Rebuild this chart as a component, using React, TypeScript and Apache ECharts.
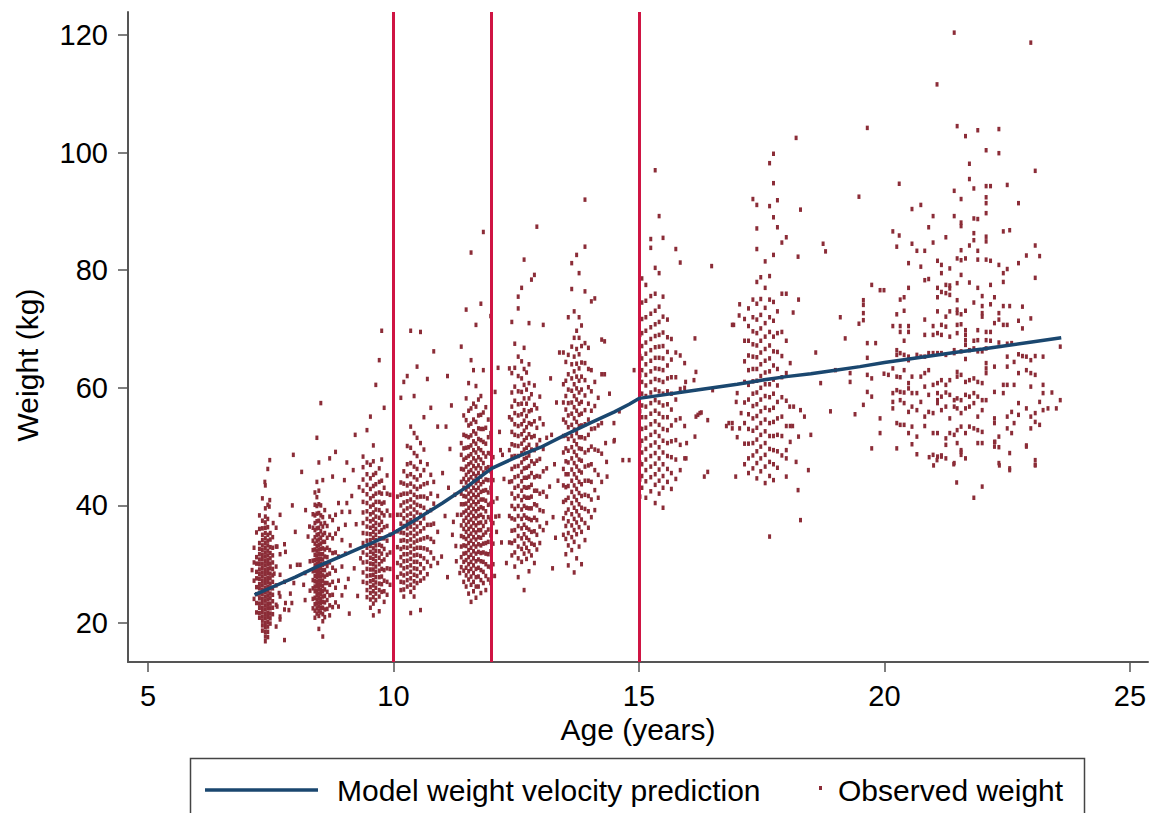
import React, { useEffect, useRef } from "react";
import * as echarts from "echarts";

type Col = [number, number[]];
type Pt = [number, number];

const xTicks = [5, 10, 15, 20, 25];
const yTicks = [20, 40, 60, 80, 100, 120];
const cutoffAges = [10, 12, 15];

const predAge = [7.17, 7.5, 8, 8.5, 9, 9.5, 10, 10.5, 11, 11.5, 12, 12.5, 13, 13.5, 14, 14.5, 14.8, 15, 15.5, 16, 16.5, 17, 17.5, 18, 18.5, 19, 19.5, 20, 20.5, 21, 21.5, 22, 22.5, 23, 23.6];
const predWeight = [24.8, 26.0, 27.8, 29.8, 31.6, 33.4, 35.3, 37.8, 40.4, 43.2, 46.3, 48.2, 49.9, 52.0, 54.0, 55.9, 57.2, 58.2, 58.8, 59.4, 60.0, 60.6, 61.3, 61.9, 62.4, 63.0, 63.6, 64.3, 64.9, 65.5, 66.1, 66.6, 67.2, 67.8, 68.5];

const wave7: Col[] = [
  [7.16, [24.1, 27.2, 30.3, 32.8]],
  [7.21, [21.8, 23.4, 24.9, 26.1, 27.6, 28.7, 30.1, 31.2, 35.4]],
  [7.27, [20.9, 21.7, 22.6, 23.3, 24.2, 25.0, 25.9, 26.6, 27.5, 28.3, 29.1, 30.0, 30.8, 31.7, 32.6, 33.6, 36.0, 38.3]],
  [7.33, [18.7, 19.6, 20.4, 21.1, 21.9, 22.6, 23.4, 24.1, 24.9, 25.6, 26.4, 27.1, 27.9, 28.6, 29.4, 30.1, 30.9, 31.6, 32.4, 33.2, 34.1, 35.0, 36.1, 37.4, 41.2]],
  [7.39, [16.9, 17.7, 18.5, 19.3, 20.0, 20.8, 21.5, 22.3, 23.0, 23.8, 24.5, 25.3, 26.0, 26.8, 27.5, 28.3, 29.0, 29.8, 30.5, 31.3, 32.0, 32.8, 33.6, 34.4, 35.3, 36.2, 37.1, 38.1, 39.5, 43.4]],
  [7.44, [17.6, 18.5, 19.4, 20.2, 21.0, 21.7, 22.5, 23.2, 24.0, 24.7, 25.5, 26.2, 27.0, 27.7, 28.5, 29.2, 30.0, 30.7, 31.5, 32.3, 33.2, 34.0, 35.0, 36.3, 37.7, 40.1, 46.2]],
  [7.49, [19.9, 20.8, 21.6, 22.5, 23.3, 24.2, 25.0, 25.9, 26.7, 27.6, 28.4, 29.3, 30.1, 31.0, 31.9, 32.9, 34.2, 35.3]],
  [7.54, [21.5, 22.6, 23.7, 24.8, 25.9, 27.0, 28.1, 29.2, 30.3, 31.5, 32.8, 34.6]],
  [7.61, [19.4, 23.1, 26.4, 29.6, 33.0, 36.2]],
  [7.69, [20.6, 24.5, 28.2, 31.7, 38.4]],
  [7.78, [17.1, 22.3, 27.0, 33.4]],
];

const wave8: Col[] = [
  [8.36, [22.5, 24.1, 25.9, 27.3, 28.8, 30.6, 32.4, 34.0, 36.2, 38.5]],
  [8.40, [20.9, 22.1, 23.2, 24.3, 25.4, 26.2, 27.1, 28.0, 28.9, 29.8, 30.7, 31.6, 32.5, 33.5, 34.6, 35.8, 37.0, 38.3, 40.1, 42.2]],
  [8.44, [21.6, 22.5, 23.3, 24.0, 24.8, 25.5, 26.3, 27.0, 27.8, 28.5, 29.2, 30.0, 30.8, 31.5, 32.3, 33.1, 34.0, 35.0, 36.1, 37.3, 38.6, 39.9, 41.4, 44.0, 51.5]],
  [8.48, [19.0, 21.2, 22.0, 22.8, 23.5, 24.3, 25.0, 25.8, 26.5, 27.2, 28.0, 28.7, 29.4, 30.2, 30.9, 31.7, 32.5, 33.3, 34.2, 35.1, 36.2, 37.4, 38.7, 40.2, 42.5, 47.3]],
  [8.52, [21.8, 22.6, 23.4, 24.1, 24.9, 25.6, 26.4, 27.1, 27.9, 28.6, 29.4, 30.1, 30.9, 31.7, 32.6, 33.5, 34.5, 35.6, 36.9, 38.3, 40.0, 57.4]],
  [8.56, [17.7, 20.3, 21.5, 22.6, 23.6, 24.5, 25.4, 26.3, 27.2, 28.1, 29.0, 29.9, 30.8, 31.7, 32.7, 33.8, 35.0, 36.4, 38.0, 44.3]],
  [8.60, [21.0, 22.3, 23.5, 24.6, 25.7, 26.8, 27.9, 29.0, 30.1, 31.3, 32.5, 33.8, 35.3, 37.0, 39.2]],
  [8.65, [22.4, 23.9, 25.3, 26.8, 28.2, 29.7, 31.2, 32.8, 34.5, 36.5]],
  [8.70, [21.3, 23.0, 24.7, 26.5, 28.4, 30.3, 32.4, 35.0, 38.1, 48.0]],
  [8.76, [22.7, 24.8, 27.0, 29.4, 31.9, 34.4, 37.5, 44.9]],
  [8.82, [23.5, 26.0, 28.9, 32.0, 35.2, 38.4, 49.1]],
  [8.88, [22.8, 27.2, 31.3, 36.0, 40.4]],
  [8.95, [24.7, 29.6, 34.1, 38.9]],
  [9.02, [26.1, 31.8, 36.7]],
];

const wave9: Col[] = [
  [9.38, [27.0, 28.6, 30.3, 32.0, 33.6, 35.3, 37.0, 38.8, 40.6, 42.5, 44.4, 46.5, 48.3]],
  [9.46, [24.4, 25.6, 26.8, 28.0, 29.2, 30.4, 31.6, 32.8, 34.0, 35.2, 36.4, 37.7, 39.0, 40.4, 41.9, 43.5, 45.3, 47.3, 52.8]],
  [9.53, [22.6, 24.0, 25.1, 26.1, 27.1, 28.1, 29.1, 30.1, 31.1, 32.1, 33.1, 34.1, 35.1, 36.2, 37.3, 38.5, 39.8, 41.2, 42.8, 44.6, 46.9, 55.1]],
  [9.59, [21.3, 23.3, 24.4, 25.4, 26.4, 27.3, 28.2, 29.1, 30.0, 30.9, 31.8, 32.7, 33.6, 34.5, 35.5, 36.5, 37.6, 38.8, 40.1, 41.6, 43.3, 45.2, 47.5, 50.2]],
  [9.64, [23.9, 25.0, 26.0, 26.9, 27.8, 28.7, 29.6, 30.5, 31.4, 32.3, 33.2, 34.1, 35.0, 36.0, 37.0, 38.1, 39.3, 40.6, 42.0, 43.6, 45.5, 60.5]],
  [9.71, [22.0, 24.5, 25.6, 26.7, 27.8, 28.9, 30.0, 31.1, 32.2, 33.3, 34.4, 35.5, 36.7, 37.9, 39.2, 40.6, 42.2, 44.0, 46.3, 64.7]],
  [9.76, [25.3, 26.6, 27.9, 29.2, 30.5, 31.8, 33.1, 34.4, 35.8, 37.2, 38.7, 40.3, 42.0, 44.2, 47.8, 69.7]],
  [9.81, [23.6, 25.4, 27.2, 29.0, 30.8, 32.6, 34.4, 36.3, 38.3, 40.5, 43.0, 56.6]],
  [9.87, [24.8, 27.0, 29.3, 31.6, 34.0, 36.5, 39.1, 42.0, 45.1]],
  [9.93, [26.5, 29.2, 32.0, 35.0, 38.3, 41.8]],
];

const wave10: Col[] = [
  [10.08, [27.8, 30.2, 32.9, 35.6, 38.4, 41.5]],
  [10.15, [25.6, 27.0, 28.4, 29.8, 31.2, 32.6, 34.0, 35.4, 36.9, 38.4, 40.0, 41.8, 43.9, 58.3]],
  [10.21, [24.5, 25.7, 26.9, 28.1, 29.3, 30.5, 31.7, 32.9, 34.1, 35.3, 36.5, 37.8, 39.1, 40.5, 42.0, 43.7, 45.8, 61.0]],
  [10.28, [26.2, 27.3, 28.4, 29.5, 30.6, 31.7, 32.8, 33.9, 35.0, 36.1, 37.2, 38.3, 39.5, 40.7, 42.0, 43.4, 45.0, 47.0, 50.1, 62.0]],
  [10.35, [21.7, 25.3, 26.5, 27.6, 28.7, 29.8, 30.9, 32.0, 33.1, 34.2, 35.3, 36.4, 37.5, 38.6, 39.8, 41.0, 42.3, 43.7, 45.3, 47.2, 49.8, 53.4, 69.7]],
  [10.42, [24.5, 26.0, 27.1, 28.2, 29.3, 30.4, 31.5, 32.6, 33.7, 34.8, 35.9, 37.0, 38.1, 39.3, 40.5, 41.8, 43.2, 44.8, 46.6, 48.9, 52.3, 58.6]],
  [10.48, [26.8, 28.0, 29.2, 30.4, 31.6, 32.8, 34.0, 35.2, 36.4, 37.6, 38.8, 40.1, 41.4, 42.8, 44.4, 46.2, 48.4, 51.5, 63.6]],
  [10.55, [22.2, 27.2, 28.6, 30.0, 31.4, 32.8, 34.2, 35.6, 37.0, 38.4, 39.9, 41.5, 43.2, 45.1, 47.4, 50.6, 69.5]],
  [10.62, [27.6, 29.3, 31.0, 32.7, 34.4, 36.1, 37.8, 39.6, 41.5, 43.6, 46.0, 49.5, 55.0]],
  [10.69, [28.3, 30.4, 32.5, 34.6, 36.7, 38.9, 41.2, 43.8, 47.0, 61.5]],
  [10.76, [29.7, 32.0, 34.3, 36.7, 39.2, 42.0, 45.2, 56.6]],
  [10.82, [31.0, 33.8, 36.9, 40.3, 44.0, 66.2]],
  [10.90, [30.2, 35.5, 41.6, 53.4]],
];

const wave11: Col[] = [
  [11.38, [29.5, 31.2, 33.0, 34.8, 36.6, 38.4, 40.2, 42.0, 44.0, 46.2, 48.6, 50.6, 67.0]],
  [11.43, [27.0, 28.9, 30.4, 31.8, 33.2, 34.6, 36.0, 37.4, 38.8, 40.2, 41.6, 43.0, 44.5, 46.1, 47.8, 49.7, 52.0, 55.3]],
  [11.48, [26.2, 28.1, 29.4, 30.7, 31.9, 33.1, 34.3, 35.5, 36.7, 37.9, 39.1, 40.3, 41.5, 42.7, 43.9, 45.2, 46.6, 48.1, 49.8, 51.8, 54.5, 58.2, 73.3]],
  [11.53, [25.0, 27.4, 28.8, 30.0, 31.2, 32.4, 33.6, 34.8, 36.0, 37.2, 38.4, 39.6, 40.8, 42.0, 43.2, 44.4, 45.7, 47.0, 48.4, 49.9, 51.6, 53.6, 56.1, 60.8]],
  [11.58, [23.6, 26.5, 27.9, 29.2, 30.4, 31.6, 32.8, 34.0, 35.2, 36.4, 37.6, 38.8, 40.0, 41.2, 42.4, 43.6, 44.8, 46.0, 47.3, 48.7, 50.2, 51.9, 53.9, 56.5, 64.7, 83.0]],
  [11.63, [25.4, 27.0, 28.5, 29.8, 31.0, 32.2, 33.4, 34.6, 35.8, 37.0, 38.2, 39.4, 40.6, 41.8, 43.0, 44.2, 45.4, 46.7, 48.0, 49.4, 50.9, 52.6, 54.6, 57.3, 63.0]],
  [11.68, [24.3, 26.2, 27.8, 29.2, 30.5, 31.8, 33.0, 34.2, 35.4, 36.6, 37.8, 39.0, 40.2, 41.4, 42.6, 43.8, 45.0, 46.3, 47.6, 49.0, 50.5, 52.2, 54.2, 56.8, 60.3, 70.7]],
  [11.73, [26.2, 27.9, 29.4, 30.8, 32.1, 33.4, 34.6, 35.8, 37.0, 38.2, 39.4, 40.6, 41.8, 43.0, 44.2, 45.5, 46.8, 48.2, 49.7, 51.3, 53.1, 55.3, 58.0]],
  [11.78, [25.1, 27.3, 29.0, 30.5, 31.9, 33.2, 34.5, 35.8, 37.1, 38.4, 39.7, 41.0, 42.3, 43.6, 44.9, 46.3, 47.8, 49.4, 51.1, 53.0, 55.4, 58.6, 74.3]],
  [11.83, [26.8, 28.7, 30.4, 32.0, 33.5, 35.0, 36.5, 38.0, 39.5, 41.0, 42.5, 44.0, 45.6, 47.2, 48.9, 50.8, 53.0, 55.8, 63.0, 86.5]],
  [11.88, [25.6, 28.0, 30.0, 31.8, 33.6, 35.4, 37.2, 39.0, 40.8, 42.6, 44.4, 46.3, 48.3, 50.5, 53.2, 56.7]],
  [11.93, [27.4, 29.6, 31.7, 33.8, 35.9, 38.0, 40.1, 42.2, 44.3, 46.5, 48.9, 51.6, 54.6]],
  [11.98, [26.8, 29.5, 32.2, 34.9, 37.6, 40.3, 43.0, 45.8, 48.8, 52.3, 72.2]],
  [12.03, [30.0, 33.5, 37.0, 40.6, 44.3, 48.2]],
];

const wave12: Col[] = [
  [12.36, [33.7, 38.2, 44.0, 49.4, 55.0, 63.3]],
  [12.41, [31.5, 33.6, 35.7, 37.8, 39.9, 42.0, 44.1, 46.2, 48.3, 50.4, 52.5, 54.6, 56.8, 59.2, 62.5, 71.2]],
  [12.47, [29.6, 32.0, 34.0, 35.8, 37.6, 39.4, 41.2, 43.0, 44.8, 46.6, 48.4, 50.2, 52.0, 53.8, 55.7, 57.8, 60.2, 63.4, 67.5]],
  [12.54, [27.8, 31.0, 33.0, 34.8, 36.5, 38.2, 39.9, 41.6, 43.3, 45.0, 46.7, 48.4, 50.1, 51.8, 53.5, 55.3, 57.2, 59.4, 62.0, 65.3, 73.5, 75.5]],
  [12.61, [30.4, 32.6, 34.4, 36.1, 37.7, 39.3, 40.9, 42.5, 44.1, 45.7, 47.3, 48.9, 50.5, 52.1, 53.8, 55.5, 57.3, 59.3, 61.6, 64.5, 77.0]],
  [12.66, [25.6, 31.8, 33.5, 35.1, 36.7, 38.3, 39.9, 41.5, 43.1, 44.7, 46.3, 47.9, 49.5, 51.1, 52.7, 54.4, 56.2, 58.2, 60.5, 63.2, 66.8, 81.8]],
  [12.71, [30.9, 32.8, 34.5, 36.2, 37.9, 39.6, 41.3, 43.0, 44.7, 46.4, 48.1, 49.8, 51.5, 53.3, 55.2, 57.3, 59.7, 62.6]],
  [12.76, [28.8, 32.2, 34.1, 35.9, 37.7, 39.5, 41.3, 43.1, 44.9, 46.7, 48.5, 50.3, 52.1, 54.0, 56.0, 58.2, 60.8, 64.0, 71.0]],
  [12.81, [31.5, 33.5, 35.5, 37.5, 39.5, 41.5, 43.5, 45.5, 47.5, 49.5, 51.6, 53.8, 56.2, 58.9, 78.4]],
  [12.87, [30.2, 33.3, 35.6, 37.9, 40.2, 42.5, 44.8, 47.1, 49.4, 51.8, 54.3, 57.1, 60.4, 79.2]],
  [12.92, [32.5, 35.0, 37.5, 40.0, 42.5, 45.0, 47.6, 50.3, 53.2, 56.5, 87.4]],
  [12.98, [33.6, 36.4, 39.2, 42.0, 44.9, 47.9, 51.1, 54.8, 58.5]],
  [13.05, [35.8, 39.0, 42.3, 45.8, 49.6, 53.8, 70.7]],
  [13.12, [37.0, 41.5, 46.3, 51.5]],
];

const wave13: Col[] = [
  [13.46, [35.0, 37.8, 40.6, 43.4, 46.2, 49.0, 51.8, 54.6, 57.5, 60.6, 66.0]],
  [13.51, [31.7, 34.3, 36.5, 38.7, 40.9, 43.1, 45.3, 47.5, 49.7, 51.9, 54.1, 56.3, 58.6, 61.2, 64.4]],
  [13.56, [29.8, 33.2, 35.3, 37.3, 39.3, 41.3, 43.3, 45.3, 47.3, 49.3, 51.3, 53.3, 55.3, 57.4, 59.7, 62.3, 65.6, 72.0]],
  [13.63, [32.4, 34.6, 36.6, 38.5, 40.4, 42.3, 44.2, 46.1, 48.0, 49.9, 51.8, 53.7, 55.6, 57.5, 59.5, 61.6, 64.0, 67.0, 76.8, 81.2]],
  [13.68, [28.6, 33.8, 35.8, 37.7, 39.6, 41.5, 43.4, 45.3, 47.2, 49.1, 51.0, 52.9, 54.8, 56.7, 58.6, 60.6, 62.8, 65.3, 68.5, 73.0]],
  [13.73, [31.0, 35.1, 37.1, 39.0, 40.9, 42.8, 44.7, 46.6, 48.5, 50.4, 52.3, 54.2, 56.1, 58.0, 59.9, 61.9, 64.1, 66.6, 69.7, 82.6]],
  [13.78, [33.0, 36.3, 38.3, 40.2, 42.1, 44.0, 45.9, 47.8, 49.7, 51.6, 53.5, 55.4, 57.3, 59.2, 61.2, 63.3, 65.7, 68.5, 72.0, 79.5]],
  [13.83, [30.0, 35.5, 37.6, 39.6, 41.6, 43.6, 45.6, 47.6, 49.6, 51.6, 53.6, 55.6, 57.6, 59.7, 61.9, 64.3, 67.1, 70.6]],
  [13.90, [34.1, 37.0, 39.4, 41.8, 44.2, 46.6, 49.0, 51.4, 53.8, 56.2, 58.7, 61.3, 64.2, 67.6, 76.4, 84.0, 92.0]],
  [13.97, [36.2, 39.0, 41.6, 44.2, 46.8, 49.4, 52.0, 54.6, 57.3, 60.1, 63.2, 66.8]],
  [14.03, [38.0, 41.0, 44.0, 47.0, 50.0, 53.0, 56.1, 59.4, 63.0, 74.7]],
  [14.10, [39.2, 42.6, 46.0, 49.5, 53.1, 56.9, 61.0, 75.2]],
  [14.17, [41.3, 45.2, 49.3, 53.6, 58.3]],
  [14.24, [44.0, 48.8, 54.0, 62.3, 68.2]],
];

const wave15: Col[] = [
  [15.02, [41.5, 44.4, 47.3, 50.2, 53.1, 56.0, 59.0, 62.1, 65.4, 69.0]],
  [15.06, [43.0, 45.0, 47.0, 49.0, 51.0, 53.0, 55.0, 57.0, 59.0, 61.0, 63.0, 65.0, 67.1, 69.3, 71.7, 74.5, 78.6]],
  [15.14, [41.3, 44.1, 46.0, 47.8, 49.6, 51.4, 53.2, 55.0, 56.8, 58.6, 60.4, 62.2, 64.0, 65.8, 67.7, 69.7, 72.0, 74.8, 77.5]],
  [15.24, [42.4, 44.8, 46.6, 48.4, 50.2, 52.0, 53.8, 55.6, 57.4, 59.2, 61.0, 62.8, 64.6, 66.4, 68.3, 70.3, 72.6, 75.6, 83.8, 85.3]],
  [15.33, [40.4, 43.5, 45.3, 47.1, 48.9, 50.7, 52.5, 54.3, 56.1, 57.9, 59.7, 61.5, 63.3, 65.1, 66.9, 68.8, 70.8, 73.1, 76.0, 80.4, 97.0]],
  [15.41, [42.0, 44.2, 46.1, 48.0, 49.9, 51.8, 53.7, 55.6, 57.5, 59.4, 61.3, 63.2, 65.1, 67.0, 69.0, 71.2, 73.8, 79.5, 89.2]],
  [15.49, [39.6, 43.0, 45.0, 47.0, 49.0, 51.0, 53.0, 55.0, 57.0, 59.0, 61.0, 63.0, 65.0, 67.1, 69.4, 72.1, 75.5, 85.5]],
  [15.58, [44.0, 46.2, 48.4, 50.6, 52.8, 55.0, 57.2, 59.4, 61.6, 63.8, 66.1, 68.6, 71.6]],
  [15.66, [42.8, 45.5, 48.2, 50.9, 53.6, 56.3, 59.0, 61.8, 64.8, 68.3]],
  [15.75, [44.5, 47.8, 51.1, 54.5, 58.0, 61.8, 66.0, 83.6]],
  [15.84, [46.0, 50.3, 54.8, 59.8, 65.5, 81.3]],
  [15.93, [48.0, 53.5, 60.0, 64.2]],
];

const wave17: Col[] = [
  [17.15, [47.0, 50.5, 54.0, 57.5, 61.0, 64.5, 68.0, 71.7]],
  [17.23, [45.5, 48.0, 50.5, 53.0, 55.5, 58.0, 60.5, 63.0, 65.5, 68.0, 70.5, 73.5]],
  [17.32, [46.3, 48.5, 50.6, 52.7, 54.8, 56.9, 59.0, 61.1, 63.2, 65.3, 67.4, 69.6, 72.0, 75.0, 92.1]],
  [17.40, [44.6, 47.2, 49.2, 51.2, 53.2, 55.2, 57.2, 59.2, 61.2, 63.2, 65.2, 67.2, 69.3, 71.6, 74.3, 78.0, 83.6, 87.1, 91.1]],
  [17.48, [45.8, 48.0, 50.0, 52.0, 54.0, 56.0, 58.0, 60.0, 62.0, 64.0, 66.0, 68.0, 70.1, 72.4, 75.1, 78.8]],
  [17.57, [43.8, 46.6, 48.6, 50.6, 52.6, 54.6, 56.6, 58.6, 60.6, 62.6, 64.6, 66.6, 68.7, 71.0, 73.6, 77.0, 81.5]],
  [17.66, [34.7, 45.0, 47.4, 49.6, 51.8, 54.0, 56.2, 58.4, 60.6, 62.8, 65.0, 67.2, 69.5, 72.0, 75.0, 79.0, 90.9, 98.2]],
  [17.74, [44.3, 47.0, 49.4, 51.8, 54.2, 56.6, 59.0, 61.4, 63.8, 66.2, 68.7, 71.4, 74.6, 82.6, 89.0, 94.8, 99.8]],
  [17.82, [46.4, 49.2, 52.0, 54.8, 57.6, 60.4, 63.2, 66.1, 69.3, 73.0, 87.3, 91.9]],
  [17.91, [48.5, 51.8, 55.1, 58.4, 61.8, 65.4, 69.5, 76.0, 84.7]],
  [18.00, [49.4, 53.5, 57.8, 62.5, 68.0, 85.6]],
];

const betweenWaves: Pt[] = [
  [7.12, 29.0], [7.48, 47.7], [7.96, 48.6], [8.13, 45.7], [7.8, 32.1], [7.9, 29.6], [8.04, 29.9], [8.1, 29.9], [8.2, 28.5],
  [7.97, 26.8], [8.17, 26.5], [7.9, 25.0], [7.93, 23.4], [7.8, 23.4], [7.87, 22.2], [8.2, 23.9], [8.21, 39.2], [8.26, 34.7],
  [8.29, 36.4], [7.63, 33.0], [7.57, 28.4], [7.67, 25.1], [7.63, 22.8], [7.69, 21.1], [7.48, 40.9], [7.47, 39.8], [7.38, 44.0],
  [7.55, 37.0], [7.94, 40.0], [8.0, 35.5], [8.3, 30.5], [8.3, 25.5],
  [9.11, 38.9], [9.08, 27.5], [9.12, 33.2], [9.15, 41.6], [9.18, 46.0], [9.2, 29.3], [9.24, 36.8], [9.27, 24.6], [9.3, 43.1],
  [9.33, 31.0], [9.22, 52.0], [9.1, 21.6], [9.05, 40.4], [9.0, 44.3], [9.05, 47.3],
  [11.0, 45.5], [10.98, 31.3], [11.05, 38.2], [11.1, 27.8], [11.15, 49.6], [11.2, 35.0], [11.18, 57.0], [11.25, 41.8],
  [11.28, 30.5], [11.3, 38.4], [11.22, 37.2], [11.35, 28.5], [11.12, 43.0], [11.27, 33.1], [11.07, 53.4], [11.1, 62.0],
  [12.07, 59.3], [12.13, 63.4], [12.11, 41.2], [12.15, 38.2], [12.1, 35.5], [12.2, 33.7], [12.18, 49.4], [12.22, 48.6],
  [12.08, 38.1], [12.25, 44.5], [12.3, 30.2], [12.06, 28.0], [12.16, 52.5],
  [13.18, 43.2], [13.22, 52.0], [13.25, 38.0], [13.28, 47.0], [13.32, 57.5], [13.2, 61.6], [13.3, 34.5], [13.35, 44.2],
  [13.38, 66.0], [13.24, 29.3],
  [14.3, 67.9], [14.32, 50.6], [14.49, 50.9], [14.34, 47.4], [14.67, 47.7], [14.35, 44.9], [14.49, 54.0], [14.5, 51.1],
  [14.4, 59.0], [14.6, 56.0], [14.8, 47.7], [14.9, 63.0], [14.3, 62.3],
  [16.14, 68.4], [16.16, 62.7], [15.95, 61.0], [16.12, 61.3], [16.16, 55.1], [16.24, 55.7], [16.48, 80.7], [16.14, 51.7],
  [15.97, 50.6], [15.96, 48.0], [16.4, 54.5], [16.5, 59.6], [16.33, 44.9], [16.4, 45.7], [16.2, 55.4], [16.27, 55.8],
  [16.9, 53.1], [16.83, 54.0], [16.9, 54.0], [16.78, 53.5], [16.97, 44.9], [16.98, 57.6], [16.93, 70.7], [17.0, 59.1],
  [17.05, 74.2], [16.9, 70.7], [17.04, 72.3], [17.0, 51.6], [17.08, 55.7], [17.05, 53.1],
  [18.08, 64.2], [18.07, 56.8], [18.15, 56.8], [18.08, 53.5], [18.13, 53.5], [18.25, 51.7], [18.08, 50.8], [18.0, 48.0],
  [18.0, 44.9], [18.2, 47.4], [18.37, 55.1], [18.29, 56.2], [18.14, 72.8], [18.25, 75.0], [18.0, 76.0], [18.29, 90.3],
  [18.24, 82.3], [18.24, 42.6], [18.29, 37.5], [18.2, 102.5], [18.5, 52.0], [18.6, 66.0], [18.75, 84.5], [18.8, 83.2],
  [18.7, 60.8], [18.9, 56.0], [19.0, 63.0], [19.1, 72.0], [19.2, 68.4], [19.48, 92.5], [19.3, 61.0], [19.4, 55.5],
  [18.45, 46.0], [19.48, 70.9], [19.3, 62.5], [19.65, 67.6], [19.65, 65.1],
];

const adultObs: Pt[] = [
  [21.42, 120.4], [22.98, 118.7], [21.07, 111.6], [19.65, 104.2], [21.48, 104.5], [21.65, 102.8], [21.9, 103.8], [22.33, 104.0],
  [22.07, 100.4], [22.33, 99.9], [21.73, 98.1], [23.07, 96.9], [20.3, 94.7], [21.73, 95.5], [21.42, 93.5], [21.82, 93.9],
  [22.07, 94.3], [22.16, 94.3], [22.5, 94.5], [21.56, 92.1], [22.07, 92.4], [22.07, 91.4], [22.73, 91.4], [20.74, 91.1],
  [20.56, 90.4], [20.99, 89.2], [21.42, 89.2], [21.56, 88.1], [21.56, 87.5], [22.07, 89.7], [21.82, 88.8], [21.9, 88.7],
  [20.9, 87.3], [20.17, 86.6], [22.42, 86.6], [22.55, 86.8], [20.3, 85.9], [21.25, 85.6], [21.82, 86.3], [21.82, 85.1],
  [22.07, 85.7], [22.07, 84.9], [20.56, 84.5], [20.25, 84.0], [20.99, 84.7], [20.66, 83.3], [20.82, 83.3], [21.56, 83.4],
  [21.73, 84.2], [21.9, 83.3], [23.07, 84.2], [22.89, 82.5], [23.16, 82.4], [20.49, 81.2], [20.74, 80.6], [21.08, 81.6],
  [21.16, 80.9], [21.33, 80.3], [21.48, 82.0], [21.56, 81.7], [21.65, 82.0], [21.56, 79.2], [21.9, 81.8], [22.07, 81.8],
  [22.16, 81.6], [22.33, 80.9], [22.73, 81.2], [22.5, 80.2], [22.42, 79.5], [23.07, 78.7], [20.82, 78.3], [20.9, 78.5],
  [21.16, 79.5], [21.48, 77.8], [21.73, 77.9], [21.9, 77.0], [22.16, 77.5], [22.42, 78.0], [19.74, 77.5], [19.91, 76.6],
  [19.99, 76.6], [20.49, 77.0], [21.08, 77.0], [21.25, 77.5], [21.33, 77.4], [21.33, 76.9], [21.16, 76.3], [21.25, 76.1],
  [19.57, 74.9], [19.57, 74.1], [20.32, 75.0], [20.4, 75.4], [21.08, 75.4], [21.33, 75.8], [21.48, 74.9], [21.82, 74.5],
  [21.99, 75.6], [21.99, 73.9], [22.24, 75.4], [22.16, 74.2], [22.42, 73.9], [22.55, 73.9], [22.81, 73.8], [19.57, 72.7],
  [19.57, 71.5], [20.25, 72.5], [20.4, 73.1], [21.08, 73.0], [21.25, 72.1], [21.33, 73.0], [21.48, 73.3], [21.48, 72.7],
  [21.56, 72.5], [21.65, 73.1], [21.99, 72.7], [21.99, 72.1], [22.24, 71.0], [22.33, 72.7], [22.33, 71.6], [22.42, 70.7],
  [22.5, 70.7], [22.73, 71.4], [22.98, 71.8], [20.17, 70.5], [20.32, 70.5], [20.32, 69.5], [20.49, 70.5], [20.49, 69.5],
  [20.82, 71.6], [20.99, 70.5], [21.16, 70.7], [21.25, 70.4], [21.48, 70.7], [21.56, 70.8], [21.65, 69.8], [21.65, 69.0],
  [21.9, 69.8], [22.07, 69.5], [22.16, 69.5], [22.81, 70.1], [19.82, 67.6], [20.4, 68.0], [20.82, 69.0], [20.99, 69.0],
  [21.08, 69.3], [21.16, 69.0], [21.33, 68.7], [21.48, 69.3], [21.65, 68.1], [21.65, 67.3], [21.82, 68.0], [21.9, 68.1],
  [22.07, 68.1], [22.16, 68.0], [22.33, 67.7], [22.5, 67.5], [22.59, 67.6], [23.58, 67.0], [20.25, 66.4], [20.25, 65.6],
  [20.32, 65.9], [20.4, 65.6], [20.49, 65.3], [20.49, 64.7], [20.66, 65.6], [20.74, 65.3], [20.82, 65.3], [20.9, 65.9],
  [20.99, 65.9], [21.08, 65.9], [21.16, 65.9], [21.25, 65.6], [21.42, 66.4], [21.42, 65.9], [21.56, 66.2], [21.65, 64.9],
  [21.73, 66.4], [21.82, 66.7], [21.9, 66.2], [21.99, 66.2], [22.07, 66.7], [22.07, 64.2], [22.07, 63.3], [22.07, 62.5],
  [22.24, 63.6], [22.5, 63.6], [22.5, 65.3], [22.64, 64.4], [22.73, 65.7], [22.81, 65.4], [22.89, 65.3], [22.98, 64.7],
  [23.07, 65.4], [23.23, 65.3],
  [19.65, 62.2], [19.74, 61.6], [19.99, 62.4], [20.08, 62.2], [20.17, 63.3], [20.25, 61.9], [20.32, 61.8], [20.4, 63.0],
  [20.49, 60.8], [20.56, 61.9], [20.74, 61.9], [20.82, 62.5], [20.9, 63.0], [20.99, 60.5], [21.08, 60.8], [21.16, 61.3],
  [21.25, 60.5], [21.33, 61.3], [21.48, 62.7], [21.48, 61.9], [21.56, 62.2], [21.65, 61.0], [21.73, 61.3], [21.82, 61.6],
  [21.9, 61.0], [21.99, 60.8], [22.24, 59.3], [22.42, 60.5], [22.5, 60.5], [22.73, 62.5], [22.89, 63.0], [22.98, 62.5],
  [23.07, 62.2], [22.98, 60.2], [23.23, 60.5],
  [19.65, 59.3], [19.74, 58.5], [20.17, 59.1], [20.25, 59.6], [20.32, 59.3], [20.4, 59.2], [20.49, 59.9], [20.56, 59.1],
  [20.66, 59.1], [20.82, 60.2], [20.9, 58.8], [21.08, 59.1], [21.08, 57.9], [21.16, 58.5], [21.25, 59.2], [21.33, 58.8],
  [21.42, 57.9], [21.48, 58.2], [21.56, 57.9], [21.65, 58.8], [21.73, 58.5], [21.82, 59.1], [21.9, 58.5], [21.99, 57.9],
  [22.07, 57.9], [22.42, 59.1], [22.64, 60.5], [22.73, 57.4], [23.16, 57.6], [23.23, 59.1], [23.41, 59.2], [23.58, 57.9],
  [19.57, 57.1], [20.17, 57.6], [20.17, 56.5], [20.32, 57.9], [20.4, 57.4], [20.49, 55.9], [20.56, 56.8], [20.66, 56.2],
  [20.74, 57.6], [20.82, 55.1], [20.9, 55.9], [20.99, 55.7], [21.08, 57.4], [21.16, 56.2], [21.25, 56.8], [21.33, 54.8],
  [21.42, 56.8], [21.48, 56.5], [21.56, 55.7], [21.65, 56.5], [21.73, 56.8], [21.82, 57.4], [21.9, 55.1], [21.99, 56.2],
  [22.24, 54.8], [22.24, 54.0], [22.5, 55.1], [22.59, 55.9], [22.73, 55.4], [22.89, 56.5], [22.98, 55.1], [23.07, 55.7],
  [23.23, 56.2], [23.33, 56.5], [23.5, 56.5],
  [19.91, 54.8], [20.25, 54.0], [20.32, 53.7], [20.4, 53.7], [20.49, 52.3], [20.56, 53.4], [20.66, 51.7], [20.82, 53.5],
  [20.99, 52.3], [21.08, 52.3], [21.25, 51.4], [21.33, 52.3], [21.42, 52.0], [21.48, 52.8], [21.56, 53.4], [21.65, 52.3],
  [21.73, 53.4], [21.82, 53.1], [21.9, 52.8], [21.99, 52.5], [22.24, 50.8], [22.33, 51.7], [22.5, 53.1], [22.59, 52.3],
  [22.64, 54.0], [22.89, 50.0], [22.98, 53.1], [23.07, 54.2], [23.16, 53.7],
  [19.91, 52.3], [19.74, 49.7], [20.25, 49.7], [20.56, 50.4], [20.66, 48.7], [20.99, 48.6], [21.08, 48.3], [21.16, 48.3],
  [21.25, 48.0], [21.25, 50.3], [21.42, 47.2], [21.48, 50.6], [21.56, 49.1], [21.56, 48.6], [21.65, 48.0], [21.9, 50.6],
  [21.99, 50.6], [22.24, 50.0], [22.33, 47.2], [22.55, 48.9], [22.55, 46.3], [23.07, 47.7], [23.07, 46.9], [20.91, 48.2],
  [21.0, 46.8], [21.16, 48.5], [21.07, 47.7], [21.41, 47.0], [21.47, 43.9], [21.56, 49.4], [21.82, 41.3], [21.99, 43.2],
  [22.34, 46.8], [22.55, 46.0], [23.07, 46.8], [22.89, 50.2], [22.33, 49.9], [22.25, 50.8],
];

const NAVY = "#1a476f";
const MAROON = "#8b2c37";
const CUTOFF = "#cf1443";
const AXIS = "#555555";
const FONT = '"Liberation Sans", Arial, sans-serif';

function flatten(cols: Col[]): Pt[] {
  const out: Pt[] = [];
  for (const [age, ws] of cols) for (const w of ws) out.push([age, w]);
  return out;
}

export default function App() {
  const ref = useRef<HTMLDivElement>(null);
  useEffect(() => {
    if (!ref.current) return;
    const chart = echarts.init(ref.current, undefined, { renderer: "svg" });
    const observed: Pt[] = [
      ...flatten(wave7), ...flatten(wave8), ...flatten(wave9), ...flatten(wave10), ...flatten(wave11),
      ...flatten(wave12), ...flatten(wave13), ...flatten(wave15), ...flatten(wave17),
      ...betweenWaves, ...adultObs,
    ];
    const pred = predAge.map((a, i) => [a, predWeight[i]]);
    chart.setOption({
      animation: false,
      backgroundColor: "#ffffff",
      textStyle: { fontFamily: FONT },
      grid: { left: 128, top: 12, width: 1020, height: 650, containLabel: false },
      xAxis: {
        type: "value",
        min: 4.593,
        max: 25.367,
        name: "Age (years)",
        nameLocation: "middle",
        nameGap: 44,
        nameTextStyle: { fontSize: 30, color: "#000", fontFamily: FONT },
        axisLine: { show: true, lineStyle: { color: AXIS, width: 2 } },
        axisTick: { show: true, length: 10, customValues: xTicks, lineStyle: { color: AXIS, width: 1.5 } },
        axisLabel: { customValues: xTicks, fontSize: 29, color: "#000", margin: 19, fontFamily: FONT },
        splitLine: { show: false },
      },
      yAxis: {
        type: "value",
        min: 13.37,
        max: 123.91,
        axisLine: { show: true, lineStyle: { color: AXIS, width: 2 } },
        axisTick: { show: true, length: 10, customValues: yTicks, lineStyle: { color: AXIS, width: 1.5 } },
        axisLabel: { customValues: yTicks, fontSize: 29, color: "#000", margin: 20, fontFamily: FONT },
        splitLine: { show: false },
      },
      graphic: [
        {
          type: "text",
          x: 27,
          y: 365,
          rotation: Math.PI / 2,
          style: { text: "Weight (kg)", font: `30px ${FONT}`, fill: "#000", align: "center", verticalAlign: "middle", textAlign: "center", textVerticalAlign: "middle" },
        },
        { type: "rect", shape: { x: 190.5, y: 758.5, width: 894, height: 90 }, style: { fill: "none", stroke: "#444", lineWidth: 1.5 } },
        { type: "line", shape: { x1: 205, y1: 790, x2: 318, y2: 790 }, style: { stroke: NAVY, lineWidth: 3.5 } },
        {
          type: "text", x: 337, y: 790,
          style: { text: "Model weight velocity prediction", font: `30px ${FONT}`, fill: "#000", verticalAlign: "middle", textVerticalAlign: "middle" },
        },
        { type: "rect", shape: { x: 819, y: 786, width: 3, height: 4 }, style: { fill: MAROON } },
        {
          type: "text", x: 838, y: 790,
          style: { text: "Observed weight", font: `30px ${FONT}`, fill: "#000", verticalAlign: "middle", textVerticalAlign: "middle" },
        },
      ],
      series: [
        {
          name: "Observed weight",
          type: "scatter",
          data: observed,
          symbol: "rect",
          symbolSize: [3, 4.5],
          itemStyle: { color: MAROON, opacity: 1 },
          silent: true,
          z: 2,
          markLine: {
            silent: true,
            symbol: ["none", "none"],
            label: { show: false },
            lineStyle: { color: CUTOFF, width: 3, type: "solid" },
            data: cutoffAges.map((a) => ({ xAxis: a })),
            z: 3,
          },
        },
        {
          name: "Model weight velocity prediction",
          type: "line",
          data: pred,
          showSymbol: false,
          symbol: "none",
          smooth: false,
          lineStyle: { color: NAVY, width: 3.5 },
          z: 4,
          silent: true,
        },
      ],
    });
    return () => chart.dispose();
  }, []);
  return <div ref={ref} style={{ position: "fixed", left: 0, top: 0, width: 1153, height: 813 }} />;
}
